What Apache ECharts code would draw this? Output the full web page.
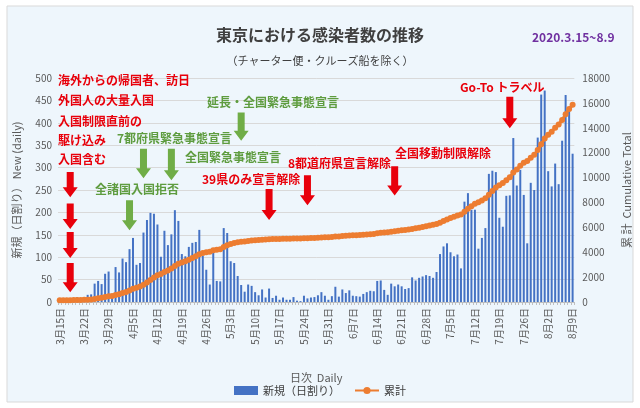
<!DOCTYPE html>
<html><head><meta charset="utf-8">
<script src="https://cdn.jsdelivr.net/npm/echarts@6/dist/echarts.min.js"></script>
<style>html,body{margin:0;padding:0;background:#fff}#c{width:640px;height:408px}</style>
</head><body><div id="c"></div>
<script>
// ---- data ----
const monthSpans = [[3,15,31],[4,1,30],[5,1,31],[6,1,30],[7,1,31],[8,1,9]];
const newMar = [2,1,9,3,7,11,7,3,16,17,41,47,40,63,68,13,78];
const newApr = [66,97,89,118,143,83,87,155,183,199,197,173,101,159,127,151,205,181,107,102,123,132,134,161,103,72,39,112,47,46];
const newMay = [165,154,91,87,58,38,23,39,36,22,15,28,10,30,9,14,5,10,5,5,11,3,2,14,8,10,11,15,22,14,5];
const newJun = [13,34,12,28,20,26,14,13,12,18,22,25,24,47,48,27,16,41,35,39,35,29,31,55,48,54,57,60,58,54];
const newJul = [67,107,124,131,111,102,106,75,224,243,206,206,119,143,165,286,293,290,188,168,237,238,366,260,295,239,131,266,250,367,463];
const newAug = [472,292,258,309,263,360,462,429,331];

const cumMar = [132,133,142,145,152,163,170,173,189,206,247,294,334,397,465,478,556];
const cumApr = [622,719,808,926,1069,1152,1239,1394,1577,1776,1973,2146,2247,2406,2533,2684,2889,3070,3177,3279,3402,3534,3668,3829,3932,4004,4043,4155,4202,4248];
const cumMay = [4413,4567,4658,4745,4803,4841,4864,4903,4939,4961,4976,5004,5014,5044,5053,5067,5072,5082,5087,5092,5103,5106,5108,5122,5130,5140,5151,5166,5188,5202,5207];
const cumJun = [5220,5254,5266,5294,5314,5340,5354,5367,5379,5397,5419,5444,5468,5515,5563,5590,5606,5647,5682,5721,5756,5785,5816,5871,5919,5973,6030,6090,6148,6202];
const cumJul = [6269,6376,6500,6631,6742,6844,6950,7025,7249,7492,7698,7904,8023,8166,8331,8617,8910,9200,9388,9556,9793,10031,10397,10657,10952,11191,11322,11588,11838,12205,12668];
const cumAug = [13140,13432,13690,13999,14262,14622,15084,15513,15844];

const leftTicks = {min:0, max:500, interval:50};
const rightTicks = {min:0, max:18000, interval:2000};

// annotations: text lines and arrows (date, from value, to value on left axis)
const redNoteLines = ['海外からの帰国者、訪日','外国人の大量入国','入国制限直前の','駆け込み','入国含む'];
const redArrows = [
  ['3月18日',290,234],['3月18日',220,163],['3月18日',156,98],['3月18日',87,22],
  ['5月14日',252,183],['5月25日',283,216],['6月19日',303,238],['7月22日',458,388]
];
const greenArrows = [
  ['4月4日',227,160],['4月8日',342,276],['4月16日',342,272],['5月6日',423,360]
];

// ---- build ----
const categories = [];
monthSpans.forEach(([m,s,e]) => { for (let d=s; d<=e; d++) categories.push(m+'月'+d+'日'); });
const newDaily = [].concat(newMar,newApr,newMay,newJun,newJul,newAug);
const cumTotal = [].concat(cumMar,cumApr,cumMay,cumJun,cumJul,cumAug);

const FONT = '"Noto Sans CJK JP", "Noto Sans", sans-serif';
const RED = '#E8000B', GREEN = '#5E9C3F', GREEN_ARROW = '#70AD47';

const chart = echarts.init(document.getElementById('c'), null, {renderer:'canvas'});
const option = {
  backgroundColor: 'transparent',
  textStyle: {fontFamily: FONT},
  animation: false,
  title: [
    {text:'東京における感染者数の推移', left:'center', top:22, textStyle:{fontSize:16, fontWeight:'bold', color:'#404040', fontFamily:FONT}},
    {text:'（チャーター便・クルーズ船を除く）', left:'center', top:50, textStyle:{fontSize:11, fontWeight:'normal', color:'#404040', fontFamily:FONT}},
    {text:'2020.3.15~8.9', left:527, top:26, textStyle:{fontSize:12, fontWeight:'bold', color:'#7030A0', fontFamily:FONT}}
  ],
  grid: {left:58, right:62, top:78, bottom:106},
  legend: {
    bottom: 7, left:'center', itemGap: 14,
    textStyle:{fontSize:11, color:'#404040', fontFamily:FONT},
    data:[{name:'新規（日割り）', icon:'rect', itemStyle:{color:'#4472C4'}}, {name:'累計'}],
    itemWidth: 24, itemHeight: 9
  },
  xAxis: {
    type:'category', data:categories, boundaryGap:true,
    name:'日次  Daily', nameLocation:'middle', nameGap:70,
    nameTextStyle:{fontSize:11, color:'#595959', fontFamily:FONT},
    axisLine:{lineStyle:{color:'#BFBFBF'}},
    axisTick:{show:true, interval:0, length:3, lineStyle:{color:'#BFBFBF'}},
    axisLabel:{interval:6, rotate:90, fontSize:10, color:'#595959', margin:6, fontFamily:FONT}
  },
  yAxis: [
    {type:'value', min:leftTicks.min, max:leftTicks.max, interval:leftTicks.interval,
     name:'新規（日割り） New (daily)', nameLocation:'middle', nameGap:36, nameRotate:90,
     nameTextStyle:{fontSize:11, color:'#595959', fontFamily:FONT},
     axisLabel:{fontSize:10, color:'#595959', margin:6},
     axisLine:{show:false}, axisTick:{show:false},
     splitLine:{lineStyle:{color:'#D9D9D9'}}},
    {type:'value', min:rightTicks.min, max:rightTicks.max, interval:rightTicks.interval,
     name:'累 計  Cumulative Total', nameLocation:'middle', nameGap:44, nameRotate:90,
     nameTextStyle:{fontSize:11, color:'#595959', fontFamily:FONT},
     axisLabel:{fontSize:10, color:'#595959', margin:8, formatter: v => String(v)},
     axisLine:{show:false}, axisTick:{show:false}, splitLine:{show:false}}
  ],
  series: [
    {name:'新規（日割り）', type:'bar', data:newDaily, yAxisIndex:0, barWidth:2,
     itemStyle:{color:'#4472C4'}, z:2},
    {name:'累計', type:'line', data:cumTotal, yAxisIndex:1, symbol:'circle', symbolSize:6,
     showSymbol:true, showAllSymbol:true, lineStyle:{color:'#ED7D31', width:3}, itemStyle:{color:'#ED7D31'}, z:3}
  ],
  graphic: []
};
chart.setOption(option);

function arrowShape(x, y1, y2, sw, hw, hh) {
  return [[x-sw,y1],[x+sw,y1],[x+sw,y2-hh],[x+hw,y2-hh],[x,y2],[x-hw,y2-hh],[x-sw,y2-hh]];
}
const g = [];
g.push({type:'rect', z:-10, shape:{x:7, y:6, width:626, height:396}, style:{fill:'#EEF6FC', stroke:'#D9D9D9', lineWidth:1}});
function addArrows(list, color) {
  list.forEach(([d, v1, v2]) => {
    const p1 = chart.convertToPixel({xAxisIndex:0, yAxisIndex:0}, [d, v1]);
    const p2 = chart.convertToPixel({xAxisIndex:0, yAxisIndex:0}, [d, v2]);
    g.push({type:'polygon', z:100, shape:{points:arrowShape(p1[0], p1[1], p2[1], 3.5, 7.5, 10)}, style:{fill:color}});
  });
}
addArrows(redArrows, RED);
addArrows(greenArrows, GREEN_ARROW);
function txt(x, y, s, color) {
  g.push({type:'text', z:100, x:x, y:y, style:{text:s, fill:color, font:'bold 12px ' + FONT, textVerticalAlign:'middle'}});
}
const redYs = [80, 100, 121, 140, 159];
redNoteLines.forEach((s,i) => txt(58, redYs[i], s, RED));
txt(207, 102, '延長・全国緊急事態宣言', GREEN);
txt(117, 138, '7都府県緊急事態宣言', GREEN);
txt(185, 157, '全国緊急事態宣言', GREEN);
txt(95, 189, '全諸国入国拒否', GREEN);
txt(202, 179, '39県のみ宣言解除', RED);
txt(288, 163, '8都道府県宣言解除', RED);
txt(395, 153, '全国移動制限解除', RED);
txt(460, 87, 'Go-To トラベル', RED);
chart.setOption({graphic: g});
</script></body></html>
